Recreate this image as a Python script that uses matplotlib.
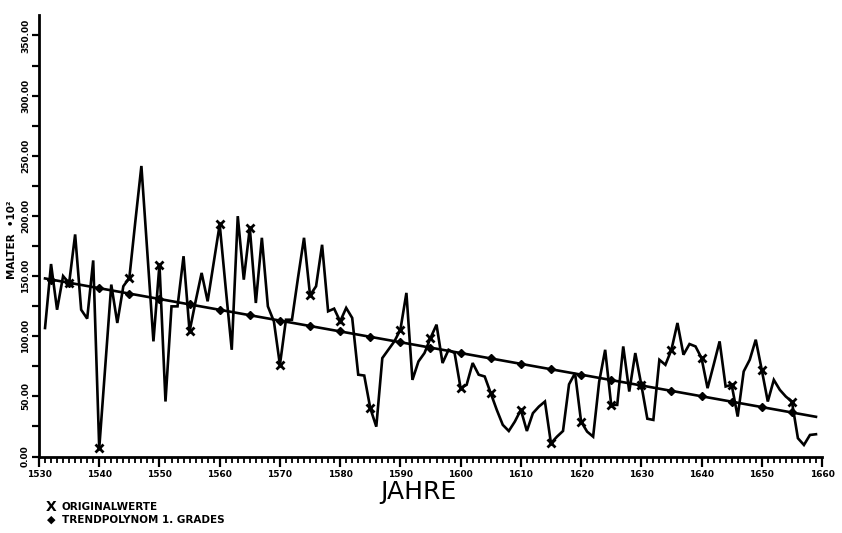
import numpy as np
import matplotlib
matplotlib.use("Agg")
import matplotlib.pyplot as plt
from matplotlib.ticker import MultipleLocator, FixedLocator

plt.rcParams['font.family'] = ['Liberation Sans Narrow', 'DejaVu Sans']

# ---- data ----
years = list(range(1531, 1660))
malter = [
    106.8, 160.0, 122.0, 150.0, 144.0, 184.6, 122.0, 114.6, 163.0,   # 1531-1539
    6.8, 75.0, 142.9, 111.0, 141.5, 148.5, 195.7, 241.5, 168.0, 95.7,  # 1540-1549
    159.6, 45.7, 124.8, 124.8, 166.5, 104.0, 129.0, 152.6, 129.0, 161.0,  # 1550-1559
    192.9, 140.0, 88.7, 199.8, 147.0, 190.0, 127.6, 181.8, 124.8, 112.3,  # 1560-1569
    76.2, 113.7, 113.7, 148.5, 181.8, 134.0, 141.5, 176.0, 120.7, 122.9,  # 1570-1579
    112.3, 123.5, 115.2, 68.0, 67.3, 40.2, 24.8, 81.8, 88.7, 95.7,      # 1580-1589
    105.4, 136.0, 63.7, 79.0, 86.0, 98.5, 109.6, 77.7, 88.7, 86.0,      # 1590-1599
    56.8, 59.6, 77.7, 68.0, 66.5, 52.7, 38.8, 26.3, 21.2, 29.0,         # 1600-1609
    38.8, 21.2, 36.0, 41.5, 45.7, 11.0, 16.5, 21.2, 60.0, 69.3,         # 1610-1619
    29.0, 20.7, 16.5, 62.0, 88.7, 42.9, 42.9, 91.5, 54.0, 86.0,         # 1620-1629
    59.6, 31.4, 30.4, 80.4, 76.2, 88.7, 111.0, 84.6, 93.5, 91.5,        # 1630-1639
    81.8, 56.8, 76.0, 95.7, 58.2, 59.6, 33.2, 70.7, 80.4, 97.1,         # 1640-1649
    72.0, 45.7, 63.7, 55.4, 49.8, 45.7, 15.2, 9.6, 17.9, 18.5,          # 1650-1659
]
marker_years = list(range(1535, 1656, 5))          # years marked with X
trend_years = [1531, 1659]                          # ends of trend line
trend_values = [148.0, 33.0]                        # trend value at those years
trend_marker_years = [1532] + list(range(1535, 1656, 5))

x_tick_labels = [str(y) for y in range(1530, 1661, 10)]
y_tick_values = [0, 50, 100, 150, 200, 250, 300, 350]

# ---- figure ----
W, H = 842, 533
fig = plt.figure(figsize=(W / 100, H / 100), dpi=100)
fig.patch.set_facecolor('white')
ax = fig.add_axes([39 / W, 1 - 456.5 / H, (822 - 39) / W, (456.5 - 15) / H])
ax.set_xlim(1530, 1660)
ax.set_ylim(0, 367)
ax.set_facecolor('white')

lw = 1.9
ax.plot(years, malter, color='black', lw=lw, solid_joinstyle='miter', zorder=3)
mvals = [malter[years.index(y)] for y in marker_years]
ax.plot(marker_years, mvals, ls='none', marker='x', ms=6, mew=2.0,
        color='black', zorder=4)

coef = np.polyfit(trend_years, trend_values, 1)
ax.plot(trend_years, np.polyval(coef, trend_years), color='black', lw=lw, zorder=3)
ax.plot(trend_marker_years, np.polyval(coef, trend_marker_years), ls='none',
        marker='D', ms=4, color='black', zorder=4)

# spines
for s in ['top', 'right']:
    ax.spines[s].set_visible(False)
for s in ['left', 'bottom']:
    ax.spines[s].set_linewidth(2.0)

# x ticks
ax.xaxis.set_major_locator(FixedLocator(list(range(1530, 1661, 10))))
ax.xaxis.set_minor_locator(MultipleLocator(1))
ax.set_xticklabels(x_tick_labels)
ax.tick_params(axis='x', which='major', direction='out', length=7, width=1.6,
               pad=3, labelsize=6.5)
ax.tick_params(axis='x', which='minor', direction='out', length=4, width=1.3)

# y ticks
ax.yaxis.set_major_locator(FixedLocator(y_tick_values))
ax.yaxis.set_minor_locator(MultipleLocator(25))
ax.set_yticklabels(['%.2f' % v for v in y_tick_values], rotation=90, va='center')
ax.tick_params(axis='y', which='major', direction='out', length=5, width=1.6,
               pad=1.5, labelsize=6.5)
ax.tick_params(axis='y', which='minor', direction='out', length=5, width=1.6)
for lab in ax.get_xticklabels() + ax.get_yticklabels():
    lab.set_fontweight('bold')

# labels
fig.text(12 / W, 1 - 240 / H, 'MALTER  •10²', rotation=90, ha='center',
         va='center', fontsize=7.5, fontweight='bold')
fig.text(418 / W, 1 - 492.5 / H, 'JAHRE', ha='center', va='center', fontsize=18)

# legend text
fig.text(51 / W, 1 - 507 / H, 'X', ha='center', va='center', fontsize=10, fontweight='bold')
fig.text(62 / W, 1 - 507 / H, 'ORIGINALWERTE', ha='left', va='center',
         fontsize=7.5, fontweight='bold')
fig.text(51 / W, 1 - 520 / H, '◆', ha='center', va='center', fontsize=8,
         family=['DejaVu Sans'])
fig.text(62 / W, 1 - 520 / H, 'TRENDPOLYNOM 1. GRADES', ha='left', va='center',
         fontsize=7.5, fontweight='bold')

fig.savefig('out.png', dpi=100)
